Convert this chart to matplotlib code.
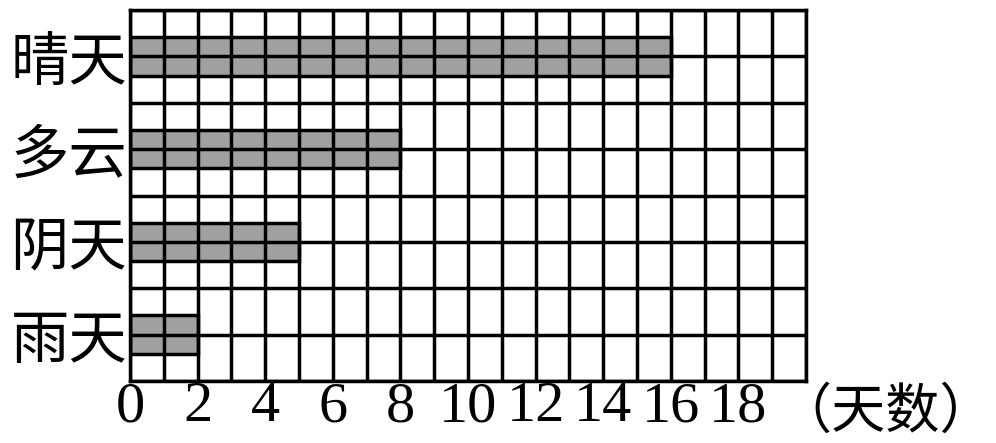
import matplotlib
matplotlib.use("Agg")
import matplotlib.pyplot as plt
import matplotlib.transforms as mt
from matplotlib.ticker import MultipleLocator, FixedLocator

categories = ["晴天", "多云", "阴天", "雨天"]
days = [16, 8, 5, 2]
cat_pos = [7, 5, 3, 1]
x_ticks = [0, 2, 4, 6, 8, 10, 12, 14, 16, 18]
x_unit = "（天数）"

W, H = 996, 443
fig = plt.figure(figsize=(W / 100, H / 100), dpi=100)
ax = fig.add_axes([130 / W, 1 - 381 / H, (806 - 130) / W, (381 - 10) / H])

lw = 2.5
ax.barh(cat_pos, days, height=0.83, color="#a0a0a0", edgecolor="black",
        linewidth=lw, zorder=2)

ax.set_xlim(0, 20)
ax.set_ylim(0, 8)
ax.xaxis.set_major_locator(FixedLocator(x_ticks))
ax.xaxis.set_minor_locator(MultipleLocator(1))
ax.set_xticklabels([str(t) for t in x_ticks], fontfamily="Liberation Serif",
                   fontsize=42)
ax.yaxis.set_major_locator(FixedLocator(cat_pos))
ax.yaxis.set_minor_locator(MultipleLocator(1))
ax.set_yticklabels(categories, fontfamily="Noto Sans CJK SC", fontsize=42)
for lab in ax.get_yticklabels():
    lab.set_transform(lab.get_transform() + mt.ScaledTranslation(0, -4 / 100, fig.dpi_scale_trans))

ax.grid(True, which="both", color="black", linewidth=lw, zorder=3)
ax.set_axisbelow(False)
ax.tick_params(which="both", length=0)
ax.tick_params(axis="x", pad=0)
ax.tick_params(axis="y", pad=2)
for s in ax.spines.values():
    s.set_linewidth(lw)
    s.set_zorder(4)

fig.text(994 / W, 1 - 428 / H, x_unit, ha="right", va="baseline",
         fontfamily="Noto Sans CJK SC", fontsize=39)

fig.savefig("out.png", dpi=100)
